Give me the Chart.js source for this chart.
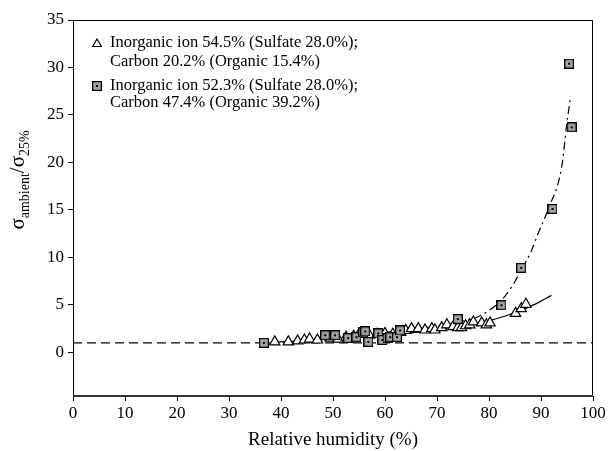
<!DOCTYPE html>
<html>
<head>
<meta charset="utf-8">
<script src="https://cdn.jsdelivr.net/npm/chart.js@4.4.1/dist/chart.umd.min.js"></script>
<style>
  html, body { margin: 0; padding: 0; background: #fff; }
</style>
</head>
<body>
<canvas id="chart" width="608" height="451"></canvas>
<script>
const FONT = '"Liberation Serif", "Times New Roman", serif';

// triangles: inorganic ion 54.5%
const triRH = [38.8, 41.4, 43.2, 44.5, 45.5, 47.0, 49.5, 51.0, 52.5, 54.0, 55.0, 57.0, 58.5, 60.0, 61.5, 63.0, 64.0, 65.1, 66.4, 67.7, 69.0, 69.6, 70.9, 71.9, 73.1, 74.0, 74.7, 75.5, 76.3, 77.0, 78.6, 79.5, 80.2, 85.1, 86.2, 87.1];
const triRatio = [1.1, 1.1, 1.2, 1.3, 1.4, 1.3, 1.5, 1.4, 1.6, 1.7, 1.9, 1.8, 1.9, 2.0, 1.9, 2.1, 2.3, 2.5, 2.5, 2.35, 2.5, 2.35, 2.6, 2.9, 2.7, 2.6, 2.6, 2.8, 2.9, 3.2, 3.1, 2.9, 3.1, 4.1, 4.6, 5.06];

// squares: inorganic ion 52.3%
const sqRH = [36.7, 48.5, 50.4, 52.9, 54.5, 55.8, 56.2, 56.8, 58.7, 59.5, 60.5, 61.0, 62.3, 62.9, 74.0, 82.4, 86.2, 92.2, 95.4, 95.9];
const sqRatio = [1.0, 1.8, 1.8, 1.5, 1.6, 2.1, 2.2, 1.1, 2.0, 1.3, 1.5, 1.6, 1.6, 2.3, 3.5, 4.96, 8.9, 15.1, 30.4, 23.7];

// fitted curves
const triFitRH = [38, 44, 50, 55, 60, 65, 70, 75, 79, 83, 86, 89, 92];
const triFitRatio = [1.05, 1.2, 1.4, 1.55, 1.8, 2.05, 2.4, 2.8, 3.2, 3.8, 4.4, 5.1, 6.0];
const sqFitRH = [60, 65, 70, 74, 77.3, 80, 82.4, 84.5, 86.2, 88, 89.5, 91.4, 94.0, 94.9, 95.7];
const sqFitRatio = [2.1, 2.4, 2.8, 3.2, 3.6, 4.4, 5.5, 7.0, 8.7, 10.5, 12.6, 15.1, 19.6, 23.8, 27.0];
const baseRH = [0, 100];
const baseRatio = [1, 1];

const xTicks = [0, 10, 20, 30, 40, 50, 60, 70, 80, 90, 100];
const yTicks = [0, 5, 10, 15, 20, 25, 30, 35];

const legendLines = [
  ["Inorganic ion 54.5% (Sulfate 28.0%);", "Carbon 20.2% (Organic 15.4%)"],
  ["Inorganic ion 52.3% (Sulfate 28.0%);", "Carbon 47.4% (Organic 39.2%)"],
];
const xTitle = "Relative humidity (%)";

const toPoints = (xs, ys) => xs.map((x, i) => ({ x: x, y: ys[i] }));

// gray square with a dot in the middle
const sqMarker = document.createElement("canvas");
sqMarker.width = 10;
sqMarker.height = 10;
const m = sqMarker.getContext("2d");
m.fillStyle = "#a3a3a3";
m.fillRect(0, 0, 10, 10);
m.strokeStyle = "#000";
m.lineWidth = 1.3;
m.strokeRect(0.6, 0.6, 8.8, 8.8);
m.fillStyle = "#000";
m.fillRect(4, 4, 2, 2);

// frame, in-plot legend and the y title with subscripts
const decor = {
  id: "decor",
  afterDraw(chart) {
    const { ctx, chartArea: a } = chart;
    ctx.save();
    ctx.strokeStyle = "#000";
    ctx.lineWidth = 1;
    ctx.beginPath();
    ctx.moveTo(a.left + 0.5, a.bottom);
    ctx.lineTo(a.left + 0.5, a.top + 0.5);
    ctx.lineTo(a.right - 0.5, a.top + 0.5);
    ctx.lineTo(a.right - 0.5, a.bottom);
    ctx.stroke();
    ctx.lineWidth = 2;
    ctx.strokeStyle = "#333";
    ctx.beginPath();
    ctx.moveTo(a.left, a.bottom);
    ctx.lineTo(a.right, a.bottom);
    ctx.stroke();

    // legend
    ctx.fillStyle = "#000";
    ctx.font = "16.5px " + FONT;
    ctx.textBaseline = "middle";
    ctx.textAlign = "left";
    const tx = a.left + 37;
    const rows = [[a.top + 23, a.top + 42], [a.top + 66, a.top + 83]];
    legendLines.forEach((lines, i) => {
      lines.forEach((t, j) => ctx.fillText(t, tx, rows[i][j]));
    });
    ctx.fillStyle = "#fff";
    ctx.strokeStyle = "#000";
    ctx.lineWidth = 1.2;
    Chart.helpers.drawPoint(ctx, { pointStyle: "triangle", radius: 5, rotation: 0, borderWidth: 1.2 }, a.left + 24, rows[0][0] + 1);
    ctx.drawImage(sqMarker, a.left + 24 - 5, rows[1][0] - 5, 10, 10);

    // y title
    ctx.fillStyle = "#000";
    ctx.translate(28, 180);
    ctx.rotate(-Math.PI / 2);
    const big = "21px " + FONT, small = "14px " + FONT;
    const parts = [["σ", big, 0], ["ambient", small, 5], ["/", big, 0], ["σ", big, 0], ["25%", small, 5]];
    let w = 0;
    parts.forEach(p => { ctx.font = p[1]; w += ctx.measureText(p[0]).width; });
    let x = -w / 2;
    ctx.textBaseline = "alphabetic";
    parts.forEach(p => {
      ctx.font = p[1];
      ctx.fillText(p[0], x, p[2] - 4);
      x += ctx.measureText(p[0]).width;
    });
    ctx.restore();
  },
};

new Chart(document.getElementById("chart"), {
  type: "scatter",
  data: {
    datasets: [
      {
        data: toPoints(sqRH, sqRatio),
        pointStyle: sqMarker,
        order: 0,
      },
      {
        data: toPoints(triRH, triRatio),
        pointStyle: "triangle",
        pointRadius: 6,
        backgroundColor: "#fff",
        borderColor: "#000",
        borderWidth: 1.2,
        order: 1,
      },
      {
        data: toPoints(triFitRH, triFitRatio),
        showLine: true,
        pointRadius: 0,
        borderColor: "#000",
        borderWidth: 1.2,
        cubicInterpolationMode: "monotone",
        order: 2,
      },
      {
        data: toPoints(sqFitRH, sqFitRatio),
        showLine: true,
        pointRadius: 0,
        borderColor: "#000",
        borderWidth: 1.2,
        borderDash: [8, 4, 2, 4],
        cubicInterpolationMode: "monotone",
        order: 2,
      },
      {
        data: toPoints(baseRH, baseRatio),
        showLine: true,
        pointRadius: 0,
        borderColor: "#000",
        borderWidth: 1.2,
        borderDash: [9, 5],
        order: 3,
      },
    ],
  },
  options: {
    responsive: false,
    animation: false,
    layout: { padding: { top: 20, right: 15, left: 0, bottom: 0 } },
    plugins: { legend: { display: false }, tooltip: { enabled: false } },
    scales: {
      x: {
        type: "linear",
        min: 0,
        max: 100,
        afterBuildTicks: s => { s.ticks = xTicks.map(v => ({ value: v })); },
        afterFit: s => { s.height = 55; },
        ticks: { color: "#000", font: { family: FONT, size: 17 }, padding: 2, maxRotation: 0 },
        grid: { drawOnChartArea: false, drawTicks: true, tickLength: 5, color: "#000" },
        border: { display: false },
        title: { display: true, text: xTitle, color: "#000", font: { family: FONT, size: 19 }, padding: { top: 4, bottom: 0 } },
      },
      y: {
        min: -4.6,
        max: 35,
        afterBuildTicks: s => { s.ticks = yTicks.map(v => ({ value: v })); },
        afterFit: s => { s.width = 73; },
        ticks: { color: "#000", font: { family: FONT, size: 17 }, padding: 4 },
        grid: { drawOnChartArea: false, drawTicks: true, tickLength: 5, color: "#000" },
        border: { display: false },
      },
    },
  },
  plugins: [decor],
});
</script>
</body>
</html>
